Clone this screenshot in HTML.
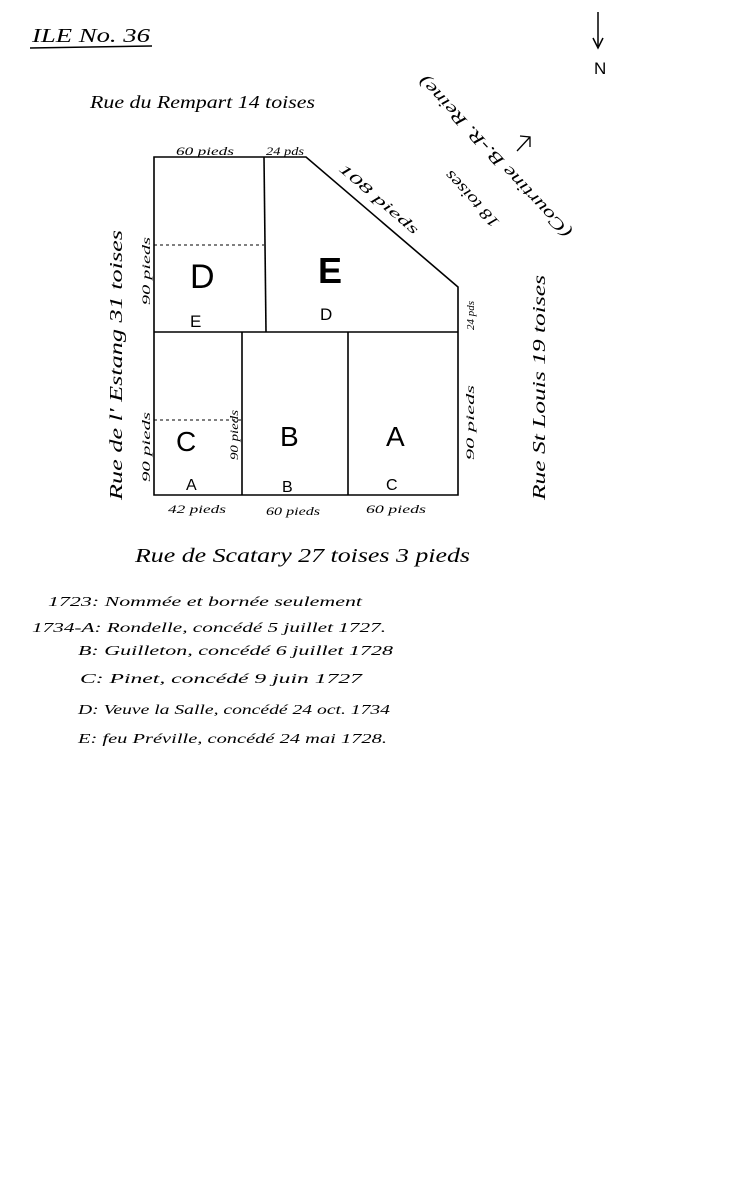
<!DOCTYPE html>
<html><head><meta charset="utf-8"><style>
html,body{margin:0;padding:0;background:#fff;}
svg{display:block;}
text{font-family:"Liberation Sans",sans-serif;fill:#000;}
.h{font-family:"Liberation Serif",serif;font-style:italic;}
</style></head><body>
<svg width="745" height="1200" viewBox="0 0 745 1200">
<text x="32" y="42" class="h" font-size="20" textLength="118" lengthAdjust="spacingAndGlyphs">ILE No. 36</text>
<line x1="30" y1="48" x2="152" y2="46" stroke="#000" stroke-width="1.5"/>
<line x1="598" y1="12" x2="598" y2="46" stroke="#000" stroke-width="1.5"/>
<polyline points="593,38 598,48 603,38" fill="none" stroke="#000" stroke-width="1.5"/>
<text x="594" y="74" font-size="17">N</text>
<text x="90" y="108" class="h" font-size="18" textLength="225" lengthAdjust="spacingAndGlyphs">Rue du Rempart 14 toises</text>
<g fill="none" stroke="#000" stroke-width="1.6">
<polygon points="154,157 306,157 458,287 458,495 154,495"/>
<line x1="154" y1="332" x2="458" y2="332"/>
<line x1="264" y1="157" x2="266" y2="332"/>
<line x1="242" y1="332" x2="242" y2="495"/>
<line x1="348" y1="332" x2="348" y2="495"/>
</g>
<g stroke="#000" stroke-width="1" stroke-dasharray="3,3">
<line x1="154" y1="245" x2="264" y2="245"/>
<line x1="154" y1="420" x2="242" y2="420"/>
</g>
<text x="176" y="155" class="h" font-size="12" textLength="58" lengthAdjust="spacingAndGlyphs">60 pieds</text>
<text x="266" y="155" class="h" font-size="12" textLength="38" lengthAdjust="spacingAndGlyphs">24 pds</text>
<text x="0" y="0" class="h" font-size="14" textLength="100" lengthAdjust="spacingAndGlyphs" transform="translate(338,170) rotate(40.5)">108 pieds</text>
<text x="190" y="288" font-size="34">D</text>
<text x="318" y="283" font-size="36" font-weight="bold">E</text>
<text x="190" y="327" font-size="17">E</text>
<text x="320" y="320" font-size="17">D</text>
<text x="176" y="451" font-size="28">C</text>
<text x="280" y="446" font-size="28">B</text>
<text x="386" y="446" font-size="28">A</text>
<text x="186" y="490" font-size="16">A</text>
<text x="282" y="492" font-size="16">B</text>
<text x="386" y="490" font-size="16">C</text>
<text x="168" y="513" class="h" font-size="12" textLength="58" lengthAdjust="spacingAndGlyphs">42 pieds</text>
<text x="266" y="515" class="h" font-size="12" textLength="54" lengthAdjust="spacingAndGlyphs">60 pieds</text>
<text x="366" y="513" class="h" font-size="12" textLength="60" lengthAdjust="spacingAndGlyphs">60 pieds</text>
<text x="0" y="0" class="h" font-size="12" textLength="68" lengthAdjust="spacingAndGlyphs" transform="translate(150,305) rotate(-90)">90 pieds</text>
<text x="0" y="0" class="h" font-size="12" textLength="70" lengthAdjust="spacingAndGlyphs" transform="translate(150,482) rotate(-90)">90 pieds</text>
<text x="0" y="0" class="h" font-size="12" textLength="50" lengthAdjust="spacingAndGlyphs" transform="translate(238,460) rotate(-90)">90 pieds</text>
<text x="0" y="0" class="h" font-size="11" transform="translate(474,330) rotate(-90)">24 pds</text>
<text x="0" y="0" class="h" font-size="12" textLength="75" lengthAdjust="spacingAndGlyphs" transform="translate(474,460) rotate(-90)">90 pieds</text>
<text x="0" y="0" class="h" font-size="18" textLength="270" lengthAdjust="spacingAndGlyphs" transform="translate(122,500) rotate(-90)">Rue de l' Estang 31 toises</text>
<text x="0" y="0" class="h" font-size="18" textLength="225" lengthAdjust="spacingAndGlyphs" transform="translate(545,500) rotate(-90)">Rue St Louis 19 toises</text>
<text x="0" y="0" class="h" font-size="16" textLength="72" lengthAdjust="spacingAndGlyphs" transform="translate(500,222) rotate(-133)">18 toises</text>
<text x="0" y="0" class="h" font-size="17" textLength="215" lengthAdjust="spacingAndGlyphs" transform="translate(572,232) rotate(-133)">(Courtine B.-R. Reine)</text>
<line x1="517" y1="151" x2="530" y2="137" stroke="#000" stroke-width="1.3"/>
<polyline points="520,136 530,137 530,147" fill="none" stroke="#000" stroke-width="1.3"/>
<text x="135" y="562" class="h" font-size="20" textLength="335" lengthAdjust="spacingAndGlyphs">Rue de Scatary 27 toises 3 pieds</text>
<g font-size="14">
<text x="48" y="606" class="h" textLength="314" lengthAdjust="spacingAndGlyphs">1723: Nommée et bornée seulement</text>
<text x="32" y="632" class="h" textLength="354" lengthAdjust="spacingAndGlyphs">1734-A: Rondelle, concédé 5 juillet 1727.</text>
<text x="78" y="655" class="h" textLength="315" lengthAdjust="spacingAndGlyphs">B: Guilleton, concédé 6 juillet 1728</text>
<text x="80" y="683" class="h" textLength="282" lengthAdjust="spacingAndGlyphs">C: Pinet, concédé 9 juin 1727</text>
<text x="78" y="714" class="h" textLength="312" lengthAdjust="spacingAndGlyphs">D: Veuve la Salle, concédé 24 oct. 1734</text>
<text x="78" y="743" class="h" textLength="309" lengthAdjust="spacingAndGlyphs">E: feu Préville, concédé 24 mai 1728.</text>
</g>
</svg>
</body></html>
